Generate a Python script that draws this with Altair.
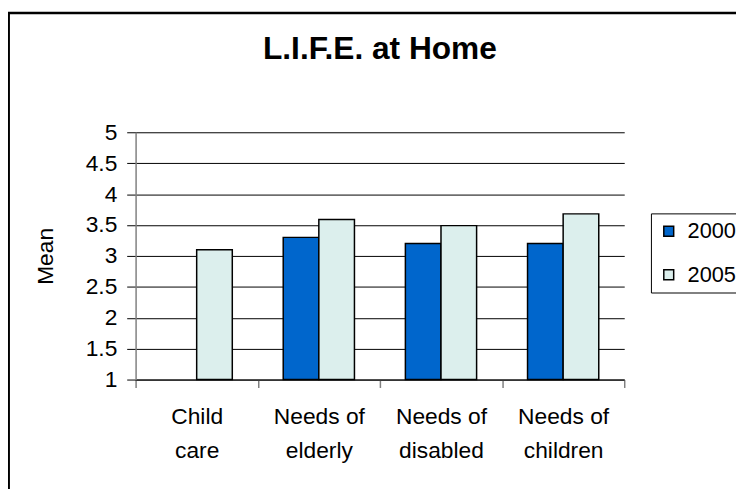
import altair as alt
import pandas as pd

categories = ["Child\ncare", "Needs of\nelderly", "Needs of\ndisabled", "Needs of\nchildren"]
years = ["2000", "2005"]
values_2000 = [None, 3.3, 3.2, 3.2]
values_2005 = [3.1, 3.59, 3.49, 3.68]
y_ticks = [1, 1.5, 2, 2.5, 3, 3.5, 4, 4.5, 5]
colors = ["#0066cc", "#dcefed"]

rows = []
for c, a, b in zip(categories, values_2000, values_2005):
    if a is not None:
        rows.append({"category": c, "year": "2000", "mean": a})
    if b is not None:
        rows.append({"category": c, "year": "2005", "mean": b})
df = pd.DataFrame(rows)

FONT = "Liberation Sans"

frame = alt.Chart(pd.DataFrame({"k": [0]})).mark_rect(
    fill="transparent", stroke="black", strokeWidth=2.5
).encode(
    x=alt.value(-128.3), x2=alt.value(640), y=alt.value(-120.5), y2=alt.value(400)
)

bars = alt.Chart(df).mark_bar(stroke="black", strokeWidth=1.5).encode(
    x=alt.X(
        "category:N",
        sort=categories,
        scale=alt.Scale(paddingInner=0, paddingOuter=0),
        axis=alt.Axis(
            title=None,
            labelAngle=0,
            labelExpr="split(datum.label, '\\n')",
            tickBand="extent",
            grid=False,
            domainColor="black",
            domainWidth=1,
            tickColor="#808080",
            tickWidth=1.5,
            tickSize=8,
            labelFont=FONT,
            labelFontSize=23,
            labelColor="black",
            labelPadding=18,
            labelLineHeight=35,
            labelBaseline="top",
        ),
    ),
    xOffset=alt.XOffset(
        "year:N", scale=alt.Scale(domain=years, paddingOuter=0.715, paddingInner=0)
    ),
    y=alt.Y(
        "mean:Q",
        scale=alt.Scale(domain=[1, 5], zero=False, nice=False),
        axis=alt.Axis(
            title="Mean",
            values=y_ticks,
            format="~g",
            grid=True,
            gridColor="black",
            gridWidth=1,
            domainColor="#808080",
            domainWidth=1.5,
            tickColor="black",
            tickSize=9,
            tickWidth=1,
            labelFont=FONT,
            labelFontSize=23,
            labelColor="black",
            labelPadding=10,
            titleFont=FONT,
            titleFontSize=23,
            titleFontWeight="normal",
            titleColor="black",
            titleX=-91,
            titleY=125,
            titleAngle=270,
            titleAlign="center",
            titleBaseline="middle",
        ),
    ),
    y2=alt.datum(1),
    color=alt.Color(
        "year:N",
        scale=alt.Scale(domain=years, range=colors),
        legend=alt.Legend(
            title=None,
            orient="none",
            legendX=521,
            legendY=82,
            padding=7,
            symbolType="square",
            symbolSize=100,
            symbolStrokeColor="black",
            symbolStrokeWidth=1.5,
            symbolOpacity=1,
            labelFont=FONT,
            labelFontSize=22,
            labelColor="black",
            labelOffset=8,
            rowPadding=22,
            strokeColor="black",
            fillColor="white",
        ),
    ),
)

chart = alt.layer(frame, bars).properties(
    width=494,
    height=250,
    padding={"left": 129, "top": 123, "right": 113, "bottom": 108},
    autosize=alt.AutoSizeParams(type="none"),
    background="white",
    title=alt.TitleParams(
        text="L.I.F.E. at Home",
        font=FONT,
        fontSize=32,
        fontWeight="bold",
        color="black",
        anchor="middle",
        baseline="alphabetic",
        offset=0,
        dy=80,
    ),
).configure_view(strokeWidth=0).configure_legend(strokeWidth=1)

chart.save("out.html", embed_options={"renderer": "svg", "actions": False})
